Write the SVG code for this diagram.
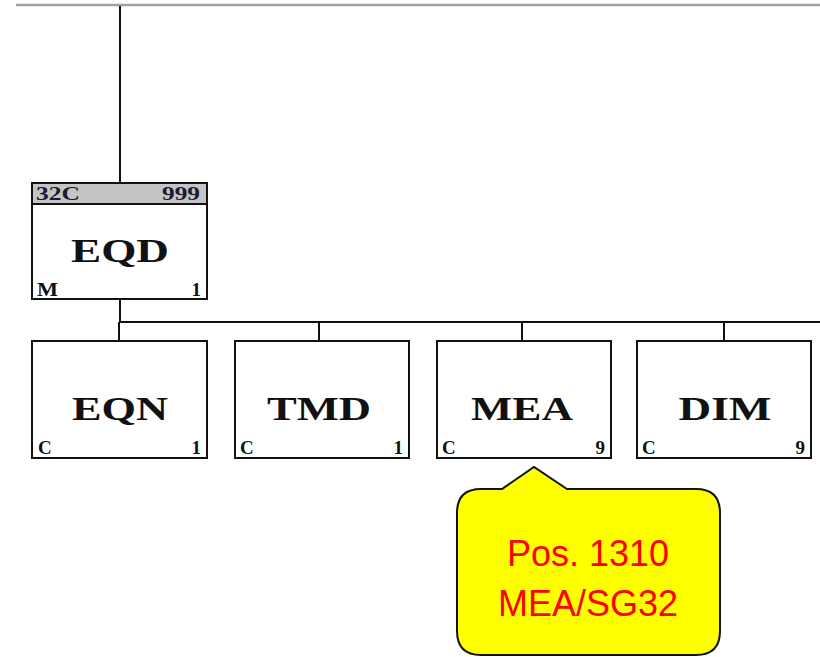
<svg xmlns="http://www.w3.org/2000/svg" width="820" height="657" viewBox="0 0 820 657">
<style>
.box{fill:#fff;stroke:#111;stroke-width:2}
.hdr{fill:#c4c4c4;stroke:#111;stroke-width:2}
.lbl{font-family:"Liberation Serif",serif;font-weight:bold;font-size:33px;fill:#111;text-anchor:middle}
.sm{font-family:"Liberation Serif",serif;font-weight:bold;font-size:19px;fill:#111}
.hd{font-family:"Liberation Serif",serif;font-weight:bold;font-size:18px;fill:#1a1a33}
.conn{stroke:#111;stroke-width:2;fill:none}
.note{font-family:"Liberation Sans",Arial,sans-serif;font-size:36px;fill:#ff0000;text-anchor:middle}
</style>
<rect width="820" height="657" fill="#fff"/>
<line x1="16" y1="5" x2="820" y2="5" stroke="#a0a0a0" stroke-width="2.5"/>
<g id="connectors">
<line class="conn" x1="120" y1="6" x2="120" y2="183"/>
<line class="conn" x1="120" y1="299" x2="120" y2="322"/>
<line class="conn" x1="119" y1="322" x2="820" y2="322"/>
<line class="conn" x1="119" y1="322" x2="119" y2="341"/>
<line class="conn" x1="319" y1="322" x2="319" y2="341"/>
<line class="conn" x1="522" y1="322" x2="522" y2="341"/>
<line class="conn" x1="724" y1="322" x2="724" y2="341"/>
</g>
<g id="EQD">
<rect class="box" x="32" y="183" width="175" height="116"/>
<rect class="hdr" x="32" y="183" width="175" height="21"/>
<text class="hd" x="36" y="200" textLength="44" lengthAdjust="spacingAndGlyphs">32C</text>
<text class="hd" x="162" y="200" textLength="38" lengthAdjust="spacingAndGlyphs">999</text>
<text class="lbl" x="120" y="262" textLength="98" lengthAdjust="spacingAndGlyphs">EQD</text>
<text class="sm" x="37" y="296" textLength="21" lengthAdjust="spacingAndGlyphs">M</text>
<text class="sm" x="201" y="296" text-anchor="end">1</text>
</g>
<g id="EQN">
<rect class="box" x="32" y="341" width="175" height="117"/>
<text class="lbl" x="120" y="420" textLength="96" lengthAdjust="spacingAndGlyphs">EQN</text>
<text class="sm" x="38" y="454">C</text>
<text class="sm" x="201" y="454" text-anchor="end">1</text>
</g>
<g id="TMD">
<rect class="box" x="235" y="341" width="174" height="117"/>
<text class="lbl" x="319" y="420" textLength="104" lengthAdjust="spacingAndGlyphs">TMD</text>
<text class="sm" x="240" y="454">C</text>
<text class="sm" x="403" y="454" text-anchor="end">1</text>
</g>
<g id="MEA">
<rect class="box" x="437" y="341" width="174" height="117"/>
<text class="lbl" x="522" y="420" textLength="102" lengthAdjust="spacingAndGlyphs">MEA</text>
<text class="sm" x="442" y="454">C</text>
<text class="sm" x="605" y="454" text-anchor="end">9</text>
</g>
<g id="DIM">
<rect class="box" x="637" y="341" width="174" height="117"/>
<text class="lbl" x="725" y="420" textLength="93" lengthAdjust="spacingAndGlyphs">DIM</text>
<text class="sm" x="642" y="454">C</text>
<text class="sm" x="805" y="454" text-anchor="end">9</text>
</g>
<g id="callout">
<path d="M481,489 L502,489 L534,467 L567,489 L696,489 Q720,489 720,513 L720,631 Q720,655 696,655 L481,655 Q457,655 457,631 L457,513 Q457,489 481,489 Z" fill="#ffff00" stroke="#111" stroke-width="2"/>
<text class="note" x="588" y="566">Pos. 1310</text>
<text class="note" x="588" y="616">MEA/SG32</text>
</g>
</svg>
